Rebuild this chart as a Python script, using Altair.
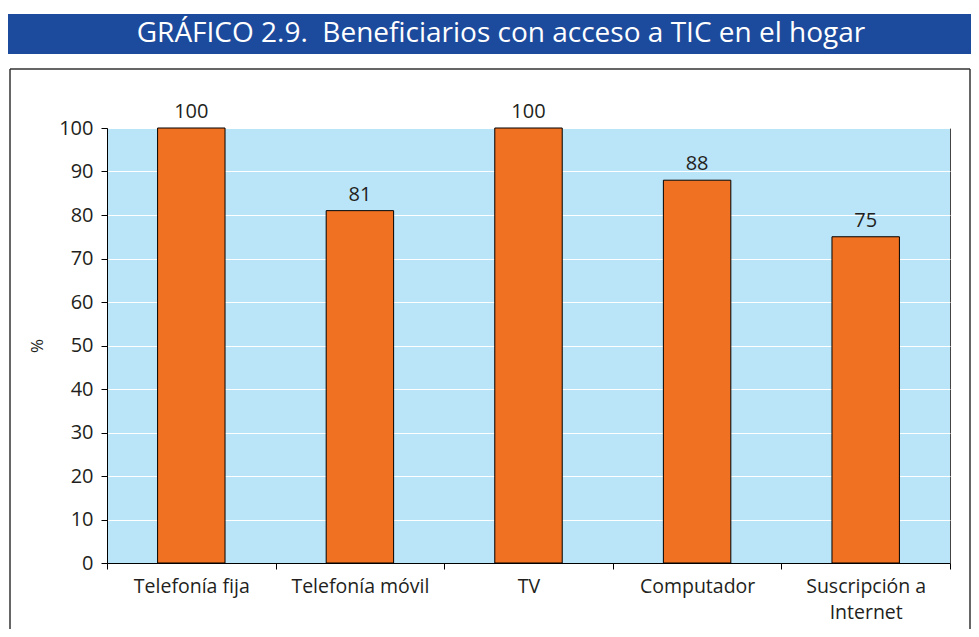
import altair as alt
import pandas as pd

categories = ["Telefonía fija", "Telefonía móvil", "TV", "Computador", "Suscripción a Internet"]
values = [100, 81, 100, 88, 75]
title_text = "GRÁFICO 2.9.\u00a0 Beneficiarios con acceso a TIC en el hogar"
y_ticks = list(range(0, 101, 10))

df = pd.DataFrame({"cat": categories, "val": values})

W, H = 843, 435
FONT = "Open Sans"
TXT = "#231F20"

base = alt.Chart(df)

x_enc = alt.X(
    "cat:N", sort=categories, title=None,
    scale=alt.Scale(paddingInner=0, paddingOuter=0),
    axis=alt.Axis(
        labelAngle=0, tickBand="extent", domainColor="#000", tickColor="#000",
        tickSize=6, labelFontSize=19.5, labelFont=FONT, labelColor=TXT,
        labelPadding=8, labelLineHeight=26, grid=False,
        labelExpr="datum.value == 'Suscripción a Internet' ? ['Suscripción a', 'Internet'] : datum.label",
    ),
)
y_enc = alt.Y(
    "val:Q", title="%",
    scale=alt.Scale(domain=[0, 100], nice=False),
    axis=alt.Axis(
        values=y_ticks, domainColor="#000", tickColor="#000", tickSize=6,
        labelFontSize=20, labelFont=FONT, labelColor=TXT, labelPadding=8,
        gridColor="#FFFFFF", gridWidth=1, gridOpacity=1,
        titleFont=FONT, titleFontSize=17, titleFontWeight="normal", titleColor=TXT,
        titlePadding=12,
    ),
)

bars = base.mark_bar(
    color="#F07122", stroke="#000", strokeWidth=1,
    width=alt.RelativeBandSize(0.4),
).encode(x=x_enc, y=y_enc)

labels = base.mark_text(
    baseline="alphabetic", dy=-10, fontSize=20, font=FONT, color=TXT,
).encode(x=alt.X("cat:N", sort=categories), y="val:Q", text="val:Q")

banner = alt.Chart(pd.DataFrame({"t": [title_text]})).mark_rect(
    color="#1C4A9C", clip=False
).encode(
    x=alt.value(-99), x2=alt.value(W + 21),
    y=alt.value(-114), y2=alt.value(-74),
)
banner_text = alt.Chart(pd.DataFrame({"t": [title_text]})).mark_text(
    color="#FFFFFF", fontSize=28, font=FONT, align="center", baseline="middle",
    clip=False,
).encode(x=alt.value(394), y=alt.value(-94), text="t:N")

frame_left = alt.Chart(pd.DataFrame({"a": [0]})).mark_rule(color="#333", strokeWidth=1.5, clip=False).encode(
    x=alt.value(-97), y=alt.value(-59), y2=alt.value(H + 70)
)
frame_top = alt.Chart(pd.DataFrame({"a": [0]})).mark_rule(color="#333", strokeWidth=1.5, clip=False).encode(
    x=alt.value(-97), x2=alt.value(863), y=alt.value(-59)
)
frame_right = alt.Chart(pd.DataFrame({"a": [0]})).mark_rule(color="#333", strokeWidth=1.5, clip=False).encode(
    x=alt.value(863), y=alt.value(-59), y2=alt.value(H + 70)
)

chart = alt.layer(
    bars, labels, banner, banner_text, frame_left, frame_top, frame_right
).properties(
    width=W, height=H,
    autosize=alt.AutoSizeParams(type="none"),
    padding={"left": 99, "top": 120, "right": 21, "bottom": 66},
    background="#FFFFFF",
).configure_view(
    fill="#BAE4F8", stroke="#444", strokeWidth=1
)

chart.save("out.html", embed_options={"renderer": "svg", "actions": False})
